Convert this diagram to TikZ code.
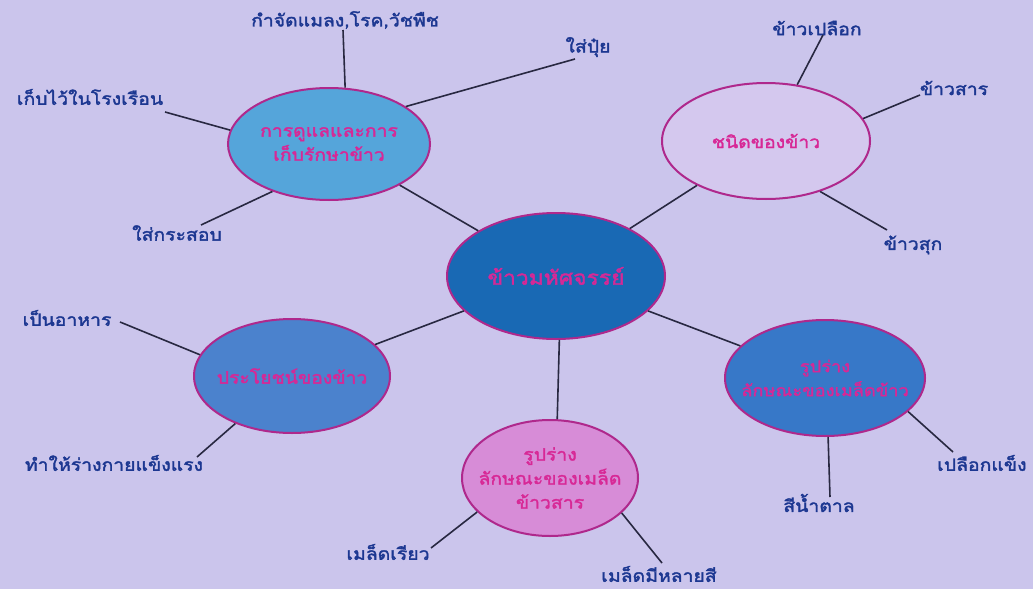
\documentclass[tikz,border=0pt]{standalone}
\usepackage{fontspec}
\newfontfamily\thai[Script=Thai, FakeBold=2, FakeStretch=1.14]{Loma}
\usetikzlibrary{shapes.geometric}
\definecolor{bg}{RGB}{203,197,236}
\definecolor{rim}{RGB}{175,40,140}
\definecolor{intext}{RGB}{215,40,150}
\definecolor{labtext}{RGB}{28,55,145}
\definecolor{wire}{RGB}{40,40,65}
\definecolor{fillA}{RGB}{85,165,218}
\definecolor{fillC}{RGB}{25,105,180}
\definecolor{fillL}{RGB}{75,130,205}
\definecolor{fillR}{RGB}{55,120,200}
\definecolor{fillT}{RGB}{212,200,238}
\definecolor{fillB}{RGB}{215,140,215}
\tikzset{
  bubble/.style={ellipse, draw=rim, line width=2pt, inner xsep=-70pt, inner ysep=-45pt, align=center,
    text=intext, font=\thai\fontsize{17}{24}\selectfont},
  lab/.style={text=labtext, inner sep=0pt, font=\thai\fontsize{17}{20}\selectfont},
  wireline/.style={draw=wire, line width=1.6pt}
}
\begin{document}
\begin{tikzpicture}[x=1pt,y=-1pt]
\fill[bg] (0,0) rectangle (1033,589);
\useasboundingbox (0,0) rectangle (1033,589);

% bubbles
\node[bubble, fill=fillC, minimum width=218pt, minimum height=126pt, font=\thai\fontsize{20}{24}\selectfont] (c) at (556,276) {ข้าวมหัศจรรย์};
\node[bubble, fill=fillA, minimum width=202pt, minimum height=112pt] (tl) at (329,144) {การดูแลและการ\\เก็บรักษาข้าว};
\node[bubble, fill=fillT, minimum width=208pt, minimum height=116pt] (tr) at (766,141) {ชนิดของข้าว};
\node[bubble, fill=fillL, minimum width=196pt, minimum height=114pt] (lf) at (292,376) {ประโยชน์ของข้าว};
\node[bubble, fill=fillR, minimum width=200pt, minimum height=116pt, font=\thai\fontsize{16}{24}\selectfont] (rt) at (825,378) {รูปร่าง\\ลักษณะของเมล็ดข้าว};
\node[bubble, fill=fillB, minimum width=176pt, minimum height=116pt] (bt) at (550,478) {รูปร่าง\\ลักษณะของเมล็ด\\ข้าวสาร};

% labels
\node[lab] (l1) at (345,20) {กำจัดแมลง,โรค,วัชพืช};
\node[lab] (l2) at (588,47) {ใส่ปุ๋ย};
\node[lab] (l3) at (90,97) {เก็บไว้ในโรงเรือน};
\node[lab] (l4) at (177,233) {ใส่กระสอบ};
\node[lab] (l5) at (817,28) {ข้าวเปลือก};
\node[lab] (l6) at (954,88) {ข้าวสาร};
\node[lab] (l7) at (913,245) {ข้าวสุก};
\node[lab] (l8) at (67,318) {เป็นอาหาร};
\node[lab] (l9) at (114,463) {ทำให้ร่างกายแข็งแรง};
\node[lab] (l10) at (388,552) {เมล็ดเรียว};
\node[lab] (l11) at (659,574) {เมล็ดมีหลายสี};
\node[lab] (l12) at (819,503) {สีน้ำตาล};
\node[lab, anchor=west] (l13) at (937,463) {เปลือกแข็ง};

% free ends near labels
\coordinate (e1) at (343,30);
\coordinate (e2) at (575,59);
\coordinate (e3) at (165,112);
\coordinate (e4) at (201,225);
\coordinate (e5) at (823,35);
\coordinate (e6) at (920,95);
\coordinate (e7) at (887,230);
\coordinate (e8) at (120,322);
\coordinate (e9) at (197,457);
\coordinate (e10) at (431,548);
\coordinate (e11) at (662,563);
\coordinate (e12) at (830,497);
\coordinate (e13) at (953,452);

% hub connectors
\draw[wireline] (c) -- (tl);
\draw[wireline] (c) -- (tr);
\draw[wireline] (c) -- (lf);
\draw[wireline] (c) -- (rt);
\draw[wireline] (c.-87) -- (bt.83);

% leaf connectors
\draw[wireline] (e1) -- (tl.74);
\draw[wireline] (e2) -- (tl.26);
\draw[wireline] (e3) -- (tl.172);
\draw[wireline] (e4) -- (tl.220);
\draw[wireline] (e5) -- (tr.61);
\draw[wireline] (e6) -- (tr.13);
\draw[wireline] (e7) -- (tr.-43);
\draw[wireline] (e8) -- (lf.167);
\draw[wireline] (e9) -- (lf.220);
\draw[wireline] (e10) -- (bt.205);
\draw[wireline] (e11) -- (bt.-26);
\draw[wireline] (e12) -- (rt.-87);
\draw[wireline] (e13) -- (rt.-22);
\end{tikzpicture}
\end{document}
